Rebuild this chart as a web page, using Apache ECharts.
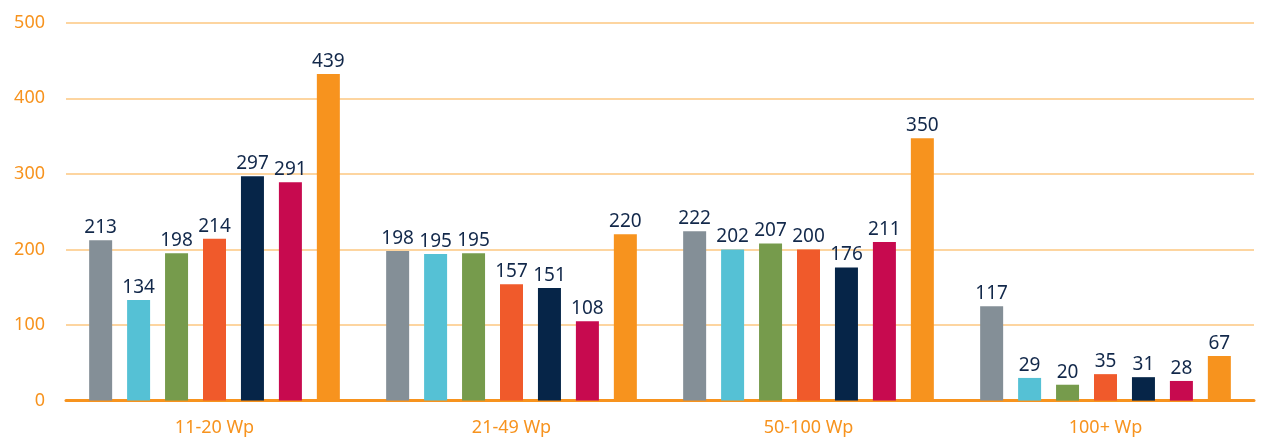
<!DOCTYPE html>
<html>
<head>
<meta charset="utf-8">
<script src="https://cdn.jsdelivr.net/npm/echarts@6/dist/echarts.min.js"></script>
<style>
    html, body { margin: 0; padding: 0; background: #fff; }
    #chart { width: 1264px; height: 438px; }
</style>
</head>
<body>
<div id="chart"></div>
<script>
// categories on the x axis
const categories = ['11-20 Wp', '21-49 Wp', '50-100 Wp', '100+ Wp'];
const yTicks = [0, 100, 200, 300, 400, 500];

// bar heights as drawn
const barA = [212, 198, 224, 125];
const barB = [133, 194, 200, 30];
const barC = [195, 195, 208, 21];
const barD = [214, 154, 200, 35];
const barE = [297, 149, 176, 31];
const barF = [289, 105, 210, 26];
const barG = [432, 220, 347, 59];

// value labels printed above the bars
const labelA = [213, 198, 222, 117];
const labelB = [134, 195, 202, 29];
const labelC = [198, 195, 207, 20];
const labelD = [214, 157, 200, 35];
const labelE = [297, 151, 176, 31];
const labelF = [291, 108, 211, 28];
const labelG = [439, 220, 350, 67];

const colors = ['#848f97', '#55c1d5', '#769b4c', '#f05a2b', '#062548', '#c70a4f', '#f7931e'];
const bars = [barA, barB, barC, barD, barE, barF, barG];
const labels = [labelA, labelB, labelC, labelD, labelE, labelF, labelG];

const chart = echarts.init(document.getElementById('chart'));

const series = bars.map((data, i) => ({
    name: 'S' + (i + 1),
    type: 'bar',
    data: data,
    barWidth: 23,
    barGap: '65%',
    itemStyle: { color: colors[i] },
    label: {
        show: true,
        position: 'top',
        distance: 3,
        color: '#12284a',
        fontSize: 19,
        fontFamily: 'Noto Sans',
        formatter: p => labels[i][p.dataIndex]
    }
}));

chart.setOption({
    animation: false,
    grid: { left: 66, right: 10, top: 22.7, bottom: 37.4, containLabel: false },
    xAxis: {
        type: 'category',
        data: categories,
        axisLine: { show: true, lineStyle: { color: '#f7931e', width: 3 } },
        axisTick: { show: false },
        axisLabel: {
            color: '#f7931e',
            fontSize: 18,
            fontFamily: 'Noto Sans',
            margin: 18
        }
    },
    yAxis: {
        type: 'value',
        min: yTicks[0],
        max: yTicks[yTicks.length - 1],
        interval: 100,
        axisLine: { show: false },
        axisTick: { show: false },
        splitLine: { lineStyle: { color: '#fdd5a0', width: 2 } },
        axisLabel: {
            color: '#f7931e',
            fontSize: 18,
            fontFamily: 'Noto Sans',
            margin: 21,
            padding: [0, 0, 13, 0]
        }
    },
    series: series
});
</script>
</body>
</html>
